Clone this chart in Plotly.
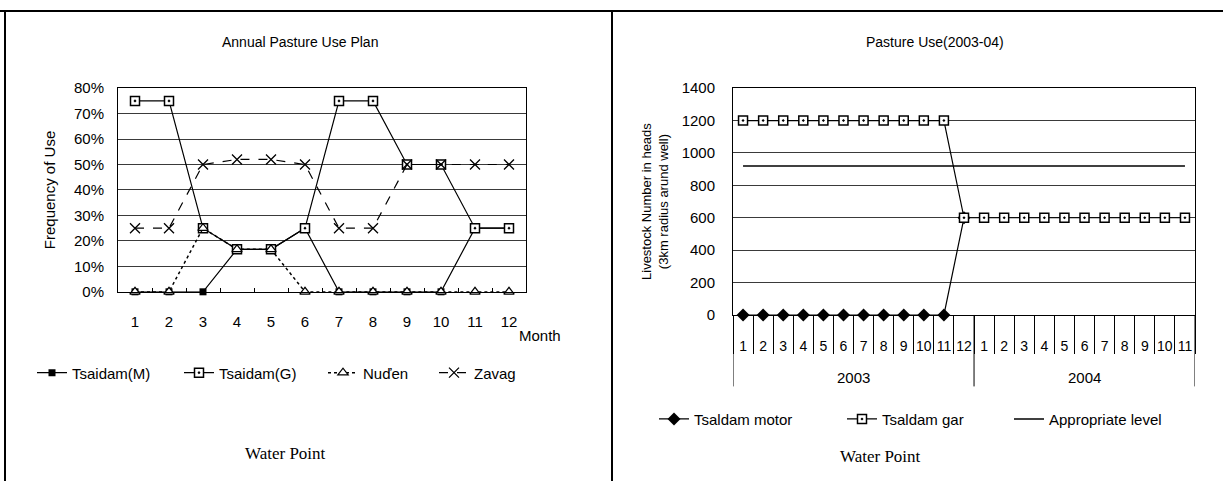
import plotly.graph_objects as go

W, H = 1223, 489

# ---------------- data: left chart ----------------
months_left = ["1", "2", "3", "4", "5", "6", "7", "8", "9", "10", "11", "12"]
tsaidam_m = [0, 0, 0, 0.167, 0.167, 0.25, 0, 0, 0, 0, 0.25, 0.25]
tsaidam_g = [0.75, 0.75, 0.25, 0.167, 0.167, 0.25, 0.75, 0.75, 0.50, 0.50, 0.25, 0.25]
nuden = [0, 0, 0.25, 0.167, 0.167, 0, 0, 0, 0, 0, 0, 0]
zavag = [0.25, 0.25, 0.50, 0.52, 0.52, 0.50, 0.25, 0.25, 0.50, 0.50, 0.50, 0.50]

# ---------------- data: right chart ----------------
years_right = ["2003"] * 12 + ["2004"] * 11
months_right = [str(m) for m in range(1, 13)] + [str(m) for m in range(1, 12)]
tsaidam_motor = [0] * 11 + [600] + [None] * 11
tsaidam_gar = [1200] * 11 + [600] * 12
appropriate_level = [920] * 23

FONT = "Liberation Sans, Arial, sans-serif"
SERIF = "Liberation Serif, Times New Roman, serif"
GRID = "#3a3a3a"


def px_x(p):
    return p / W


def px_y(p):
    return 1 - p / H


# position index for each (year, month) category on the right
xr = list(range(len(months_right)))

fig = go.Figure()

# left traces
fig.add_trace(go.Scatter(x=months_left, y=tsaidam_m, name="Tsaidam(M)", mode="lines+markers",
                         line=dict(color="black", width=1.2),
                         marker=dict(symbol="square", size=7, color="black"), cliponaxis=False,
                         xaxis="x", yaxis="y", legend="legend", showlegend=True))
fig.add_trace(go.Scatter(x=months_left, y=tsaidam_g, name="Tsaidam(G)", mode="lines+markers",
                         line=dict(color="black", width=1.2),
                         marker=dict(symbol="square-dot", size=9, color="white",
                                     line=dict(width=1.5, color="black")), cliponaxis=False,
                         xaxis="x", yaxis="y", legend="legend2", showlegend=True))
fig.add_trace(go.Scatter(x=months_left, y=nuden, name="Nuďen", mode="lines+markers",
                         line=dict(color="black", width=1.5, dash="dot"),
                         marker=dict(symbol="triangle-up", size=9, color="white",
                                     line=dict(width=1.2, color="black")), cliponaxis=False,
                         xaxis="x", yaxis="y", legend="legend3", showlegend=True))
fig.add_trace(go.Scatter(x=months_left, y=zavag, name="Zavag", mode="lines+markers",
                         line=dict(color="black", width=1.2, dash="dash"),
                         marker=dict(symbol="x-thin", size=10, color="black",
                                     line=dict(width=1.3, color="black")), cliponaxis=False,
                         xaxis="x", yaxis="y", legend="legend4", showlegend=True))

# right traces
fig.add_trace(go.Scatter(x=xr, y=appropriate_level, name="Appropriate level", mode="lines",
                         line=dict(color="black", width=1.5), cliponaxis=False,
                         xaxis="x2", yaxis="y2", legend="legend7", showlegend=True))
fig.add_trace(go.Scatter(x=xr, y=tsaidam_motor, name="Tsaldam motor", mode="lines+markers",
                         line=dict(color="black", width=1.2),
                         marker=dict(symbol="diamond", size=10, color="black"), cliponaxis=False,
                         xaxis="x2", yaxis="y2", legend="legend5", showlegend=True))
fig.add_trace(go.Scatter(x=xr, y=tsaidam_gar, name="Tsaldam gar", mode="lines+markers",
                         line=dict(color="black", width=1.2),
                         marker=dict(symbol="square-dot", size=9, color="white",
                                     line=dict(width=1.5, color="black")), cliponaxis=False,
                         xaxis="x2", yaxis="y2", legend="legend6", showlegend=True))

tickfont = dict(family=FONT, size=15, color="black")
n_right = len(months_right)

fig.update_layout(
    width=W, height=H,
    margin=dict(l=0, r=0, t=0, b=0),
    paper_bgcolor="white", plot_bgcolor="white",
    showlegend=True,
    font=dict(family=FONT, size=14, color="black"),
    xaxis=dict(domain=[px_x(118), px_x(526)], anchor="y", type="category",
               range=[-0.5, 11.5], showgrid=False, tickson="boundaries",
               ticks="inside", ticklen=4, tickcolor="black",
               showline=True, linecolor="black", linewidth=1, mirror=True,
               tickfont=tickfont, ticklabelstandoff=16),
    yaxis=dict(domain=[px_y(293), px_y(82)], anchor="x", range=[0, 0.8], dtick=0.1,
               tickformat=".0%", showgrid=True, gridcolor=GRID, gridwidth=1,
               showline=True, linecolor="black", linewidth=1, mirror=True,
               zeroline=False, tickfont=tickfont, ticklabelstandoff=10,
               title=dict(text="Frequency of Use", font=dict(family=FONT, size=15), standoff=14)),
    xaxis2=dict(domain=[px_x(733), px_x(1195)], anchor="y2", type="linear",
                range=[-0.5, n_right - 0.5], showgrid=False, zeroline=False,
                tickmode="array", tickvals=xr, ticktext=months_right, ticks="",
                minor=dict(tick0=-0.5, dtick=1, ticks="outside", ticklen=38,
                           tickcolor="black", tickwidth=1, showgrid=False),
                showline=True, linecolor="black", linewidth=1, mirror=True,
                tickangle=0, tickfont=dict(family=FONT, size=14, color="black"),
                ticklabelstandoff=18),
    yaxis2=dict(domain=[px_y(317), px_y(82)], anchor="x2", range=[0, 1400], dtick=200,
                showgrid=True, gridcolor=GRID, gridwidth=1,
                showline=True, linecolor="black", linewidth=1, mirror=True,
                zeroline=False, tickfont=tickfont, ticklabelstandoff=14,
                title=dict(text="Livestock Number in heads<br>(3km radius arund well)",
                           font=dict(family=FONT, size=13), standoff=10)),
)

# legends, one per entry so each sits where the reference puts it
leg_common = dict(orientation="h", xanchor="left", yanchor="middle", bgcolor="rgba(0,0,0,0)",
                  font=dict(family=FONT, size=15, color="black"), borderwidth=0,
                  itemwidth=30, visible=True)
legend_pos = {
    "legend": (32, 377), "legend2": (179, 377), "legend3": (323, 377), "legend4": (434, 377),
    "legend5": (654, 425), "legend6": (842, 425), "legend7": (1009, 425),
}
for key, (lx, ly) in legend_pos.items():
    fig.update_layout(**{key: dict(x=px_x(lx), y=px_y(ly), **leg_common)})

annotations = [
    dict(text="Annual Pasture Use Plan", x=px_x(300), y=px_y(34), font=dict(family=FONT, size=14)),
    dict(text="Pasture Use(2003-04)", x=px_x(935), y=px_y(34), font=dict(family=FONT, size=14)),
    dict(text="Month", x=px_x(540), y=px_y(338), font=dict(family=FONT, size=15)),
    dict(text="Water Point", x=px_x(285), y=px_y(460), font=dict(family=SERIF, size=17)),
    dict(text="Water Point", x=px_x(880), y=px_y(464), font=dict(family=SERIF, size=17)),
]
for a in annotations:
    a.update(xref="paper", yref="paper", showarrow=False, xanchor="center", yanchor="middle")

# year group labels and dividers on the right axis, derived from the category arrays
shapes = []
groups = []
for i, yr in enumerate(years_right):
    if not groups or groups[-1][0] != yr:
        groups.append([yr, i, i])
    else:
        groups[-1][2] = i
for yr, i0, i1 in groups:
    annotations.append(dict(text=yr, x=(i0 + i1) / 2, xref="x2", y=px_y(382), yref="paper",
                            showarrow=False, xanchor="center", yanchor="middle",
                            font=dict(family=FONT, size=15)))
bounds = [g[1] - 0.5 for g in groups] + [groups[-1][2] + 0.5]
for b in bounds:
    shapes.append(dict(type="line", xref="x2", yref="paper", x0=b, x1=b,
                       y0=px_y(317), y1=px_y(391), line=dict(color="black", width=1)))

fig.update_layout(annotations=annotations)

# page frame lines (scanned panel borders)
frame = [
    dict(x0=0, x1=1, y0=px_y(2), y1=px_y(2)),
    dict(x0=px_x(5), x1=px_x(5), y0=0, y1=px_y(2)),
    dict(x0=px_x(612), x1=px_x(612), y0=0, y1=px_y(2)),
]
for f in frame:
    f.update(type="line", xref="paper", yref="paper", line=dict(color="black", width=2))
    shapes.append(f)
fig.update_layout(shapes=shapes)

fig.write_html("out.html")
